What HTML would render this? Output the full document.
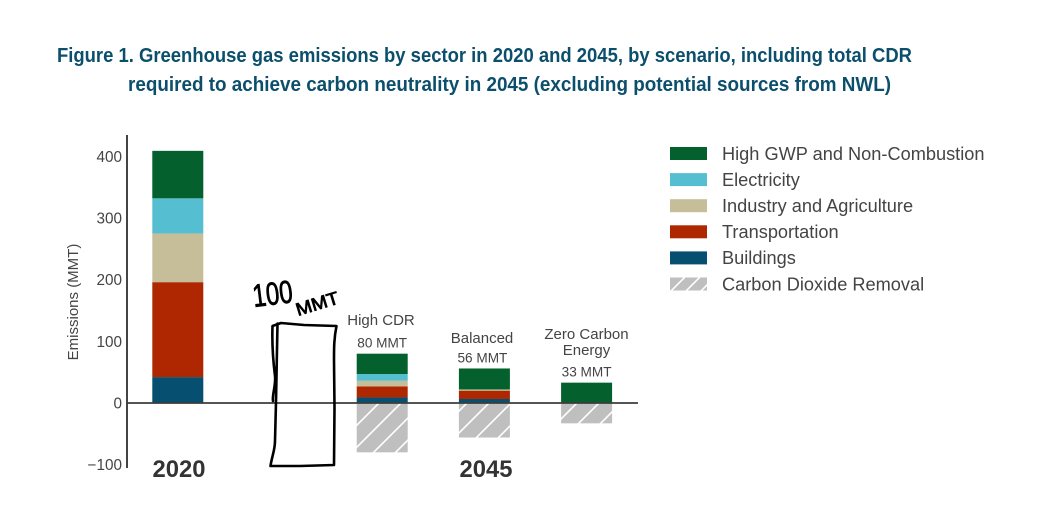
<!DOCTYPE html>
<html lang="en">
<head>
<meta charset="utf-8">
<title>Figure 1. Greenhouse gas emissions by sector</title>
<style>
html,body{margin:0;padding:0;background:#fff;width:1046px;height:528px;overflow:hidden}
svg{display:block;font-family:"Liberation Sans",Arial,sans-serif}
</style>
</head>
<body>
<svg id="chart" width="1046" height="528" viewBox="0 0 1046 528" xmlns="http://www.w3.org/2000/svg">
<defs>
<pattern id="hatch" patternUnits="userSpaceOnUse" width="22" height="22" patternTransform="translate(378 404)">
<rect width="22" height="22" fill="#bfbfbf"/>
<path d="M-3 25 L25 -3 M-3 3 L3 -3 M19 25 L25 19" stroke="#fff" stroke-width="1.6" fill="none"/>
</pattern>
<pattern id="hatch-legend" patternUnits="userSpaceOnUse" width="15" height="15" patternTransform="translate(670 277)">
<rect width="15" height="15" fill="#bfbfbf"/>
<path d="M-3 18 L18 -3" stroke="#fff" stroke-width="1.6" fill="none"/>
</pattern>
</defs>
<g font-weight="700" font-size="20.5" fill="#0b4f6c">
<text x="57" y="62" textLength="855" lengthAdjust="spacingAndGlyphs">Figure 1. Greenhouse gas emissions by sector in 2020 and 2045, by scenario, including total CDR</text>
<text x="128" y="91" textLength="763" lengthAdjust="spacingAndGlyphs">required to achieve carbon neutrality in 2045 (excluding potential sources from NWL)</text>
</g>
<g id="bars"></g>
<g id="axis"></g>
<g id="labels"></g>
<g id="legend"></g>
<g fill="#000" stroke="#000" stroke-width="0.8">
<text transform="translate(254 307) rotate(-7)" font-size="32" textLength="40" lengthAdjust="spacingAndGlyphs">100</text>
<text transform="translate(298 316) rotate(-17)" font-size="18" textLength="44" lengthAdjust="spacingAndGlyphs">MMT</text>
</g>
<path fill="none" stroke="#000" stroke-width="2.6" stroke-linejoin="round" stroke-linecap="round" d="M273 401 C272 395 276 385 275 376 C273 360 272 340 272.5 326 L281 323 L304 325 L336.5 326 C334 338 334 348 334 360 L334.5 408 L334 465 L300 466 L270.5 466 C272 456 275 450 275 441 L276 402 L277.5 323.5"/>
</svg>
<script>
const categories = ["2020", "Removed", "High CDR", "Balanced", "Zero Carbon Energy"];
const buildings = [42, 0, 9, 6.5, 0];
const transportation = [154, 0, 18, 13.5, 0];
const industry = [79, 0, 9, 2, 0];
const electricity = [57, 0, 11, 0, 0];
const highGwp = [77, 0, 33, 34, 33];
const carbonRemoval = [0, 0, -80, -56, -33];
const totalLabels = ["", "", "80 MMT", "56 MMT", "33 MMT"];
const yTicks = [400, 300, 200, 100, 0, -100];
const legendLabels = ["High GWP and Non-Combustion", "Electricity", "Industry and Agriculture", "Transportation", "Buildings", "Carbon Dioxide Removal"];

const NS = "http://www.w3.org/2000/svg";
const colors = {buildings:"#064f70", transportation:"#ae2700", industry:"#c6bd99", electricity:"#55bfd1", highGwp:"#04602c", cdr:"url(#hatch)"};
const yScale = v => 403 - v * 0.6165;
const xScale = i => 152.3 + i * 102.2;
const barWidth = 51;
function make(tag, attrs, parent, text) {
  const el = document.createElementNS(NS, tag);
  for (const k in attrs) el.setAttribute(k, attrs[k]);
  if (text !== undefined) el.textContent = text;
  parent.appendChild(el);
  return el;
}
const barsGroup = document.getElementById("bars");
const stackDefs = [["buildings", buildings], ["transportation", transportation], ["industry", industry], ["electricity", electricity], ["high-gwp", highGwp]];
const stackColors = [colors.buildings, colors.transportation, colors.industry, colors.electricity, colors.highGwp];
categories.forEach((cat, i) => {
  let base = 0;
  stackDefs.forEach((def, s) => {
    const v = def[1][i];
    if (v > 0) {
      const r = make("rect", {x: xScale(i), y: yScale(base + v), width: barWidth, height: yScale(base) - yScale(base + v), fill: stackColors[s]}, barsGroup);
      
      
    }
    base += v;
  });
  if (carbonRemoval[i] < 0) {
    const r = make("rect", {x: xScale(i), y: yScale(0), width: barWidth, height: yScale(carbonRemoval[i]) - yScale(0), fill: colors.cdr}, barsGroup);
    
    
  }
});
const axisGroup = document.getElementById("axis");
const axisLine = make("line", {x1: 127, x2: 127, y1: 135, y2: 468, stroke: "#444", "stroke-width": 2}, axisGroup);


const zeroLine = make("line", {x1: 127, x2: 638, y1: yScale(0), y2: yScale(0), stroke: "#3c3c3c", "stroke-width": 1.8}, axisGroup);


yTicks.forEach(t => {
  const label = make("text", {x: 122, y: yScale(t) + 5.5, "text-anchor": "end", "font-size": 15.3, fill: "#444"}, axisGroup, t < 0 ? "\u2212" + Math.abs(t) : String(t));
  
  
});
const yTitle = make("text", {transform: "translate(78 302) rotate(-90)", "text-anchor": "middle", "font-size": 15, fill: "#444"}, axisGroup, "Emissions (MMT)");



const labelsGroup = document.getElementById("labels");
const center = i => xScale(i) + barWidth / 2;
const stackTop = i => yScale(buildings[i] + transportation[i] + industry[i] + electricity[i] + highGwp[i]);
function addLabel(x, y, size, str, name, bold) {
  const t = make("text", {x: x, y: y, "text-anchor": "middle", "font-size": size, fill: bold ? "#333" : "#444", "font-weight": bold ? 700 : 400}, labelsGroup, str);
  
  
}
totalLabels.forEach((str, i) => {
  if (str) addLabel(center(i) - (i === 3 ? 2 : 0), stackTop(i) - 6, 13.6, str, 'bar-total-label', false);
});
addLabel(381, 325, 15, "High CDR", 'scenario-label', false);
addLabel(482, 343, 15, "Balanced", 'scenario-label', false);
addLabel(586.5, 339, 15, "Zero Carbon", 'scenario-label', false);
addLabel(586.5, 355, 15, "Energy", 'scenario-label', false);
addLabel(179, 477, 23.8, "2020", 'year-label-2020', true);
addLabel(486, 477, 23.8, "2045", 'year-label-2045', true);

const legendGroup = document.getElementById("legend");
const legendFills = [colors.highGwp, colors.electricity, colors.industry, colors.transportation, colors.buildings, "url(#hatch-legend)"];
legendLabels.forEach((str, i) => {
  const y = 153.5 + i * 26.1;
  const sw = make("rect", {x: 670, y: y - 6.5, width: 37, height: 13, fill: legendFills[i]}, legendGroup);
  
  
  const tx = make("text", {x: 722, y: y + 6.3, "font-size": 18.2, fill: "#444"}, legendGroup, str);
  
  
});
</script>
</body>
</html>
